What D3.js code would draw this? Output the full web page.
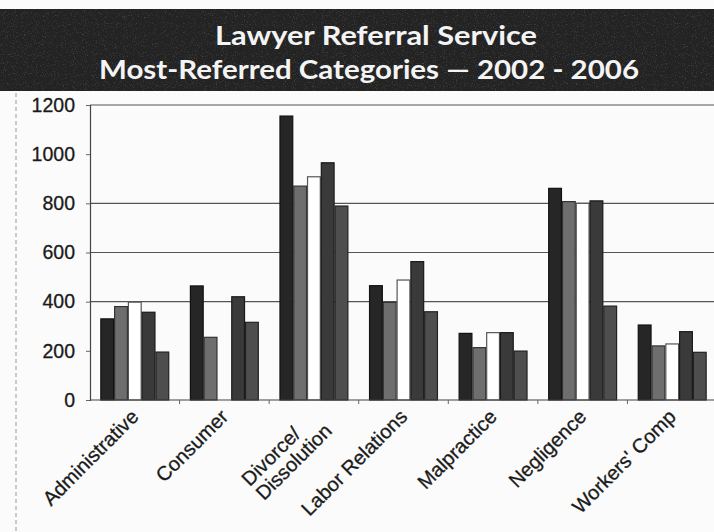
<!DOCTYPE html>
<html>
<head>
<meta charset="utf-8">
<script src="https://cdn.jsdelivr.net/npm/d3@7"></script>
<style>
  html, body { margin: 0; padding: 0; background: #fbfbfb; }
  svg { display: block; }
</style>
</head>
<body>
<svg id="chart" width="714" height="532"></svg>
<script>
// ---- data ----
const categories = ["Administrative", "Consumer", "Divorce/\nDissolution", "Labor Relations", "Malpractice", "Negligence", "Workers' Comp"];
const years = ["2002", "2003", "2004", "2005", "2006"];
const v2002 = [330, 464, 1155, 465, 271, 861, 305];
const v2003 = [380, 255, 870, 397, 213, 807, 220];
const v2004 = [398, null, 908, 488, 274, 800, 228];
const v2005 = [357, 420, 965, 563, 274, 810, 278];
const v2006 = [195, 316, 789, 359, 199, 382, 194];
const yTicks = [0, 200, 400, 600, 800, 1000, 1200];
const gridValues = [400, 600, 800, 1200];
const titleLines = ["Lawyer Referral Service", "Most-Referred Categories \u2014 2002 - 2006"];

const series = [v2002, v2003, v2004, v2005, v2006];
const fills = ["#262626", "#6e6e6e", "#ffffff", "#3a3a3a", "#4e4e4e"];
const strokes = ["#111", "#333", "#555", "#1a1a1a", "#222"];

const svg = d3.select("#chart");
const W = 714, H = 532;

// noise filter for the scanned banner
const defs = svg.append("defs");
const f = defs.append("filter").attr("id", "noise").attr("x", 0).attr("y", 0).attr("width", "100%").attr("height", "100%");
f.append("feTurbulence").attr("type", "fractalNoise").attr("baseFrequency", 0.9).attr("numOctaves", 2).attr("seed", 3);
f.append("feColorMatrix").attr("type", "matrix")
  .attr("values", "0 0 0 0 1  0 0 0 0 1  0 0 0 0 1  0 0 0 1.6 -0.9");

// background
svg.append("rect").attr("width", W).attr("height", H).attr("fill", "#fbfbfb");

// title banner
svg.append("rect").attr("x", 0).attr("y", 9).attr("width", W).attr("height", 82).attr("fill", "#232323");
svg.append("rect").attr("x", 0).attr("y", 9).attr("width", W).attr("height", 82).attr("filter", "url(#noise)").attr("opacity", 0.35);
const titleX = [376, 369], titleY = [45, 79], titleLen = [322, 540];
svg.selectAll("text.title").data(titleLines).join("text")
  .attr("class", "title")
  .attr("x", (d, i) => titleX[i])
  .attr("y", (d, i) => titleY[i])
  .attr("text-anchor", "middle")
  .attr("font-family", "Lato, 'Noto Sans', sans-serif")
  .attr("font-weight", "bold")
  .attr("font-size", 27)
  .attr("textLength", (d, i) => titleLen[i])
  .attr("lengthAdjust", "spacingAndGlyphs")
  .attr("fill", "#f4f4f4")
  .text(d => d);

// left border of the box
svg.append("line").attr("x1", 16).attr("x2", 16).attr("y1", 93).attr("y2", H)
  .attr("stroke", "#999").attr("stroke-width", 1).attr("stroke-dasharray", "4,3");

// scales
const x0 = d3.scaleBand().domain(categories).range([90, 717]).padding(0);
const x1 = d3.scaleBand().domain(years).range([0, x0.bandwidth()]).paddingInner(0).paddingOuter(0.75);
const y = d3.scaleLinear().domain([0, 1200]).range([400, 105]);

// gridlines
svg.append("g").selectAll("line").data(gridValues).join("line")
  .attr("x1", 90).attr("x2", W)
  .attr("y1", d => y(d)).attr("y2", d => y(d))
  .attr("stroke", "#555").attr("stroke-width", 1.2);

// bars
const groups = svg.append("g").selectAll("g").data(categories).join("g")
  .attr("transform", d => `translate(${x0(d)},0)`);
groups.selectAll("rect")
  .data((c, ci) => years.map((yr, si) => ({ yr, si, v: series[si][ci] })).filter(d => d.v != null))
  .join("rect")
  .attr("x", d => x1(d.yr) + 0.5)
  .attr("width", x1.bandwidth() - 1)
  .attr("y", d => y(d.v))
  .attr("height", d => y(0) - y(d.v))
  .attr("fill", d => fills[d.si])
  .attr("stroke", d => strokes[d.si])
  .attr("stroke-width", 1.2);

// y axis
const yAxis = svg.append("g").attr("transform", "translate(90,0)")
  .call(d3.axisLeft(y).tickValues(yTicks).tickSize(4).tickPadding(11).tickFormat(d3.format("d")));
yAxis.select(".domain").attr("stroke", "#444").attr("stroke-width", 1.2);
yAxis.selectAll(".tick line").attr("stroke", "#666");
yAxis.selectAll("text").attr("font-family", "'Liberation Sans', Arial, sans-serif")
  .attr("font-size", 19.5).attr("fill", "#1a1a1a").attr("stroke", "#1a1a1a").attr("stroke-width", 0.3);

// x axis (ticks at category boundaries)
const xb = svg.append("g").attr("transform", "translate(0,400)");
xb.append("line").attr("x1", 90).attr("x2", W).attr("stroke", "#444").attr("stroke-width", 1.2);
xb.selectAll("line.tk").data(categories.slice(1)).join("line").attr("class", "tk")
  .attr("x1", d => x0(d)).attr("x2", d => x0(d)).attr("y1", 0).attr("y2", 4)
  .attr("stroke", "#666");

// category labels, rotated
const labG = svg.append("g");
categories.forEach(c => {
  const lines = c.split("\n");
  const g = labG.append("g")
    .attr("transform", `translate(${x0(c) + x0.bandwidth() / 2 + 5},418) rotate(-45)`);
  const texts = lines.map((ln, j) => g.append("text")
    .attr("y", j * 20)
    .attr("font-family", "'Liberation Sans', Arial, sans-serif")
    .attr("font-size", 20)
    .attr("fill", "#1a1a1a")
    .attr("stroke", "#1a1a1a")
    .attr("stroke-width", 0.3)
    .text(ln));
  const maxW = d3.max(texts, t => t.node().getComputedTextLength());
  texts.forEach(t => t.attr("x", -maxW));
});
</script>
</body>
</html>
